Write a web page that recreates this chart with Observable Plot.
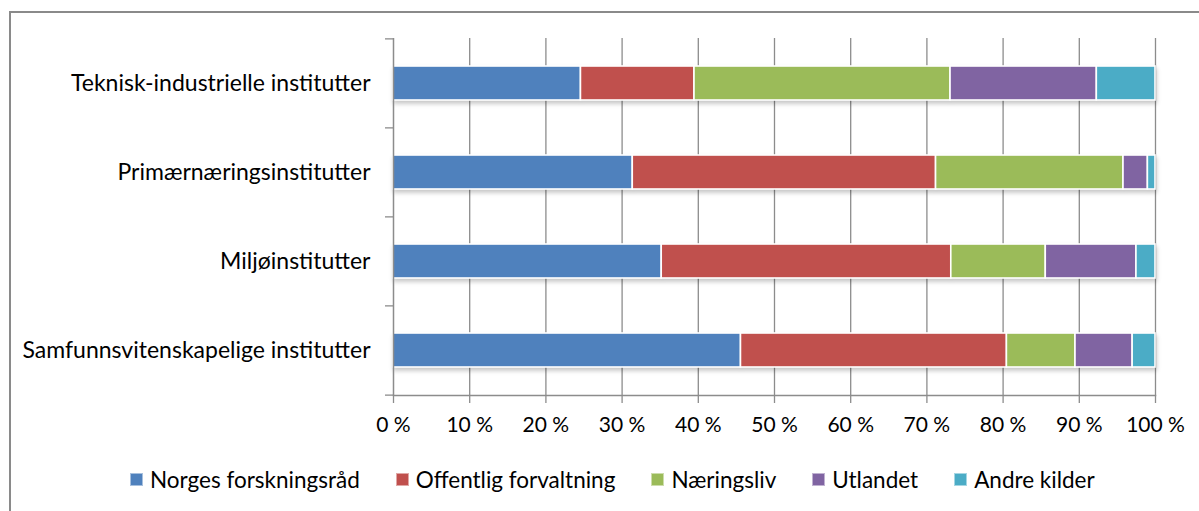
<!DOCTYPE html>
<html>
<head>
<meta charset="utf-8">
<script src="https://cdn.jsdelivr.net/npm/d3@7"></script>
<script src="https://cdn.jsdelivr.net/npm/@observablehq/plot@0.6"></script>
<style>
  html, body { margin: 0; padding: 0; background: #fff; overflow: hidden; width: 1199px; height: 511px; }
  #frame { position: absolute; left: 9px; top: 11px; width: 1400px; height: 700px;
           border-left: 2.5px solid #8a8a8a; border-top: 2.5px solid #8a8a8a; }
  #chart { position: absolute; left: 0; top: 0; }
  #legend { position: absolute; left: 130px; top: 466px; display: flex; align-items: center;
            font-family: Lato, "Open Sans", sans-serif; font-size: 22.5px; color: #000; }
  #legend .item { display: flex; align-items: center; margin-right: 36px; }
  #legend .sw { width: 13px; height: 13px; margin-right: 7px; box-sizing: border-box; border: 1px solid rgba(255,255,255,0.5); }
</style>
</head>
<body>
<div id="frame"></div>
<div id="chart"></div>
<div id="legend"></div>
<script>
const categories = [
  "Teknisk-industrielle institutter",
  "Primærnæringsinstitutter",
  "Miljøinstitutter",
  "Samfunnsvitenskapelige institutter"
];
const sources = ["Norges forskningsråd", "Offentlig forvaltning", "Næringsliv", "Utlandet", "Andre kilder"];
const colors = ["#4F81BD", "#C0504D", "#9BBB59", "#8064A2", "#4BACC6"];
// shares (%) per category, in source order
const tekniskValues   = [24.6, 14.9, 33.6, 19.2, 7.7];
const primaerValues   = [31.4, 39.8, 24.6, 3.2, 1.0];
const miljoValues     = [35.2, 38.0, 12.4, 11.9, 2.5];
const samfunnValues   = [45.6, 34.9, 9.0, 7.5, 3.0];
const xTicks = [0, 10, 20, 30, 40, 50, 60, 70, 80, 90, 100];
const tickLabel = d => d + " %";

const seriesByCategory = [tekniskValues, primaerValues, miljoValues, samfunnValues];
const rows = [];
categories.forEach((c, i) => {
  sources.forEach((s, j) => rows.push({category: c, source: s, value: seriesByCategory[i][j]}));
});

const W = 1199, H = 450, mt = 38, mb = 55, ml = 393, mr = 44;
const padInner = 0.62, padOuter = 0.31;
const step = (H - mt - mb) / categories.length;
// category boundary ticks on the left axis (offset from each band's centre)
const boundaries = categories.map(c => ({c, off: -step / 2}))
  .concat([{c: categories[categories.length - 1], off: step / 2}]);

const gridColor = "#8c8c8c";
const chart = Plot.plot({
  width: W, height: H,
  marginTop: mt, marginBottom: mb, marginLeft: ml, marginRight: mr,
  style: {fontFamily: "Lato, 'Open Sans', sans-serif", fontSize: "21px", color: "#000", background: "transparent"},
  x: {domain: [0, 100]},
  y: {domain: categories, paddingInner: padInner, paddingOuter: padOuter},
  color: {domain: sources, range: colors},
  marks: [
    Plot.ruleX(xTicks.filter(d => d > 0), {stroke: gridColor, strokeWidth: 1.3}),
    Plot.barX(rows, Plot.stackX({
      x: "value", y: "category", fill: "source", order: sources,
      stroke: "white", strokeWidth: 1.6,
      render: (index, scales, values, dimensions, context, next) => {
        const g = next(index, scales, values, dimensions, context);
        d3.select(g).style("filter", "drop-shadow(1px 3px 2px rgba(0,0,0,0.22))");
        return g;
      }
    })),
    Plot.ruleX([0], {stroke: gridColor, strokeWidth: 1.5}),
    Plot.frame({anchor: "bottom", stroke: gridColor, strokeWidth: 1.5}),
    Plot.ruleY(boundaries, {y: "c", x1: -1.05, x2: 0, stroke: gridColor, strokeWidth: 1.3,
      render: (index, scales, values, dimensions, context, next) => {
        const g = next(index, scales, values, dimensions, context);
        d3.select(g).selectAll("line").attr("transform", (_, k) => `translate(0,${boundaries[index[k]].off})`);
        return g;
      }}),
    Plot.axisX({ticks: xTicks, tickFormat: tickLabel, tickSize: 8, tickPadding: 14, stroke: gridColor, strokeWidth: 1.3, strokeOpacity: 1, fill: "#000", label: null}),
    Plot.axisY({tickSize: 0, tickPadding: 23, fill: "#000", fontSize: 23, label: null})
  ]
});
document.getElementById("chart").appendChild(chart);

const legend = document.getElementById("legend");
sources.forEach((s, i) => {
  const item = document.createElement("div");
  item.className = "item";
  const sw = document.createElement("div");
  sw.className = "sw";
  sw.style.background = colors[i];
  const t = document.createElement("span");
  t.textContent = s;
  item.appendChild(sw); item.appendChild(t);
  legend.appendChild(item);
});
</script>
</body>
</html>
